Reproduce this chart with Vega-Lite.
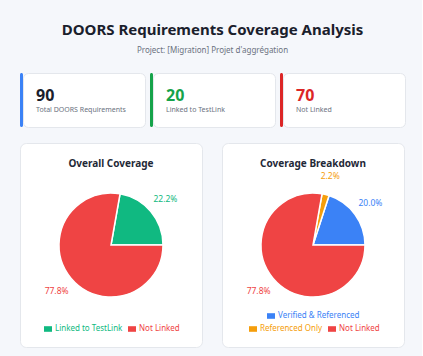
{
  "$schema": "https://vega.github.io/schema/vega-lite/v6.json",
  "background": "#f5f7fb",
  "padding": {"left": 19, "top": 22, "right": 16, "bottom": 8},
  "title": {
    "text": "DOORS Requirements Coverage Analysis",
    "subtitle": "Project: [Migration] Projet d'aggrégation",
    "anchor": "middle",
    "fontSize": 15,
    "fontWeight": "bold",
    "color": "#1a202c",
    "subtitleFontSize": 8,
    "subtitleColor": "#6b7280",
    "subtitlePadding": 9,
    "offset": 18
  },
  "config": {"font": "Noto Sans", "view": {"stroke": null}},
  "datasets": {
    "kpis": [
      {"metric": "Total DOORS Requirements", "count": 90},
      {"metric": "Linked to TestLink", "count": 20},
      {"metric": "Not Linked", "count": 70}
    ],
    "overall": [
      {"category": "Linked to TestLink", "count": 20, "share": 0.222},
      {"category": "Not Linked", "count": 70, "share": 0.778}
    ],
    "breakdown": [
      {"category": "Verified & Referenced", "count": 18, "share": 0.2},
      {"category": "Referenced Only", "count": 2, "share": 0.022},
      {"category": "Not Linked", "count": 70, "share": 0.778}
    ]
  },
  "spacing": 14,
  "vconcat": [
    {
      "spacing": 4,
      "hconcat": [
        {
          "spacing": -1,
          "bounds": "flush",
          "hconcat": [
            {"width": 3, "height": 54, "data": {"name": "kpis"}, "transform": [{"filter": "datum.metric == 'Total DOORS Requirements'"}], "mark": {"type": "rect", "color": "#3b82f6", "cornerRadius": 2}, "encoding": {}},
            {
              "width": 122, "height": 54,
              "view": {"fill": "white", "cornerRadius": 5, "stroke": "#e4e7ec"},
              "data": {"name": "kpis"},
              "transform": [{"filter": "datum.metric == 'Total DOORS Requirements'"}],
              "layer": [
                {"mark": {"type": "text", "align": "left", "baseline": "middle", "dx": -48, "dy": -4, "fontSize": 16, "fontWeight": "bold", "color": "#1a202c"}, "encoding": {"text": {"field": "count", "type": "nominal"}}},
                {"mark": {"type": "text", "align": "left", "baseline": "middle", "dx": -48, "dy": 10, "fontSize": 7, "color": "#6b7280"}, "encoding": {"text": {"field": "metric", "type": "nominal"}}}
              ]
            }
          ]
        },
        {
          "spacing": -1,
          "bounds": "flush",
          "hconcat": [
            {"width": 3, "height": 54, "data": {"name": "kpis"}, "transform": [{"filter": "datum.metric == 'Linked to TestLink'"}], "mark": {"type": "rect", "color": "#16a34a", "cornerRadius": 2}, "encoding": {}},
            {
              "width": 122, "height": 54,
              "view": {"fill": "white", "cornerRadius": 5, "stroke": "#e4e7ec"},
              "data": {"name": "kpis"},
              "transform": [{"filter": "datum.metric == 'Linked to TestLink'"}],
              "layer": [
                {"mark": {"type": "text", "align": "left", "baseline": "middle", "dx": -48, "dy": -4, "fontSize": 16, "fontWeight": "bold", "color": "#16a34a"}, "encoding": {"text": {"field": "count", "type": "nominal"}}},
                {"mark": {"type": "text", "align": "left", "baseline": "middle", "dx": -48, "dy": 10, "fontSize": 7, "color": "#6b7280"}, "encoding": {"text": {"field": "metric", "type": "nominal"}}}
              ]
            }
          ]
        },
        {
          "spacing": -1,
          "bounds": "flush",
          "hconcat": [
            {"width": 3, "height": 54, "data": {"name": "kpis"}, "transform": [{"filter": "datum.metric == 'Not Linked'"}], "mark": {"type": "rect", "color": "#dc2626", "cornerRadius": 2}, "encoding": {}},
            {
              "width": 122, "height": 54,
              "view": {"fill": "white", "cornerRadius": 5, "stroke": "#e4e7ec"},
              "data": {"name": "kpis"},
              "transform": [{"filter": "datum.metric == 'Not Linked'"}],
              "layer": [
                {"mark": {"type": "text", "align": "left", "baseline": "middle", "dx": -48, "dy": -4, "fontSize": 16, "fontWeight": "bold", "color": "#dc2626"}, "encoding": {"text": {"field": "count", "type": "nominal"}}},
                {"mark": {"type": "text", "align": "left", "baseline": "middle", "dx": -48, "dy": 10, "fontSize": 7, "color": "#6b7280"}, "encoding": {"text": {"field": "metric", "type": "nominal"}}}
              ]
            }
          ]
        }
      ]
    },
    {
      "spacing": 18,
      "resolve": {"scale": {"color": "independent", "theta": "independent", "fill": "independent"}, "legend": {"color": "independent", "fill": "independent"}},
      "hconcat": [
        {
          "width": 182, "height": 204,
          "view": {"fill": "white", "cornerRadius": 6, "stroke": "#e4e7ec"},
          "title": {"text": "Overall Coverage", "fontSize": 10, "fontWeight": "bold", "color": "#1f2937", "anchor": "middle", "frame": "group", "offset": -26},
          "data": {"name": "overall"},
          "encoding": {
            "theta": {"field": "count", "type": "quantitative", "stack": true, "scale": {"range": [1.5708, 7.854]}},
            "order": {"field": "category", "sort": "descending"},
            "color": {
              "field": "category", "type": "nominal",
              "scale": {"domain": ["Linked to TestLink", "Not Linked"], "range": ["#10b981", "#ef4444"]},
              "legend": {"orient": "none", "legendX": 24, "legendY": 182, "direction": "horizontal", "title": null, "symbolType": "M-1,-0.7H1V0.7H-1Z", "symbolSize": 64, "symbolStrokeWidth": 0, "labelFontSize": 8, "labelOffset": 3, "columnPadding": 5, "labelColor": {"expr": "datum.label == 'Not Linked' ? '#ef4444' : '#10b981'"}}
            }
          },
          "layer": [
            {"mark": {"type": "arc", "outerRadius": 52, "stroke": "white", "strokeWidth": 1.5}},
            {"mark": {"type": "text", "radius": 71, "fontSize": 8.5}, "encoding": {"text": {"field": "share", "type": "quantitative", "format": ".1%"}}}
          ]
        },
        {
          "width": 182, "height": 204,
          "view": {"fill": "white", "cornerRadius": 6, "stroke": "#e4e7ec"},
          "title": {"text": "Coverage Breakdown", "fontSize": 10, "fontWeight": "bold", "color": "#1f2937", "anchor": "middle", "frame": "group", "offset": -26},
          "data": {"name": "breakdown"},
          "layer": [
            {
              "encoding": {
                "theta": {"field": "count", "type": "quantitative", "stack": true, "scale": {"range": [1.5708, 7.854]}},
                "order": {"field": "category", "sort": "ascending"},
                "color": {
                  "field": "category", "type": "nominal",
                  "scale": {"domain": ["Verified & Referenced", "Referenced Only", "Not Linked"], "range": ["#3b82f6", "#f59e0b", "#ef4444"]},
                  "legend": {"values": ["Referenced Only", "Not Linked"], "orient": "none", "legendX": 27, "legendY": 182, "direction": "horizontal", "title": null, "symbolType": "M-1,-0.7H1V0.7H-1Z", "symbolSize": 64, "symbolStrokeWidth": 0, "labelFontSize": 8, "labelOffset": 3, "columnPadding": 5, "labelColor": {"expr": "datum.label == 'Not Linked' ? '#ef4444' : '#f59e0b'"}}
                }
              },
              "layer": [
                {"mark": {"type": "arc", "outerRadius": 52, "stroke": "white", "strokeWidth": 1.5}},
                {"mark": {"type": "text", "radius": 71, "fontSize": 8.5}, "encoding": {"text": {"field": "share", "type": "quantitative", "format": ".1%"}}}
              ]
            },
            {
              "transform": [{"filter": "datum.category == 'Verified & Referenced'"}],
              "mark": {"type": "arc", "radius": 0},
              "encoding": {
                "fill": {
                  "field": "category", "type": "nominal",
                  "scale": {"domain": ["Verified & Referenced"], "range": ["#3b82f6"]},
                  "legend": {"orient": "none", "legendX": 45, "legendY": 169, "direction": "horizontal", "title": null, "symbolType": "M-1,-0.7H1V0.7H-1Z", "symbolSize": 64, "symbolStrokeWidth": 0, "labelFontSize": 8, "labelOffset": 3, "labelColor": "#3b82f6"}
                }
              }
            }
          ]
        }
      ]
    }
  ]
}
